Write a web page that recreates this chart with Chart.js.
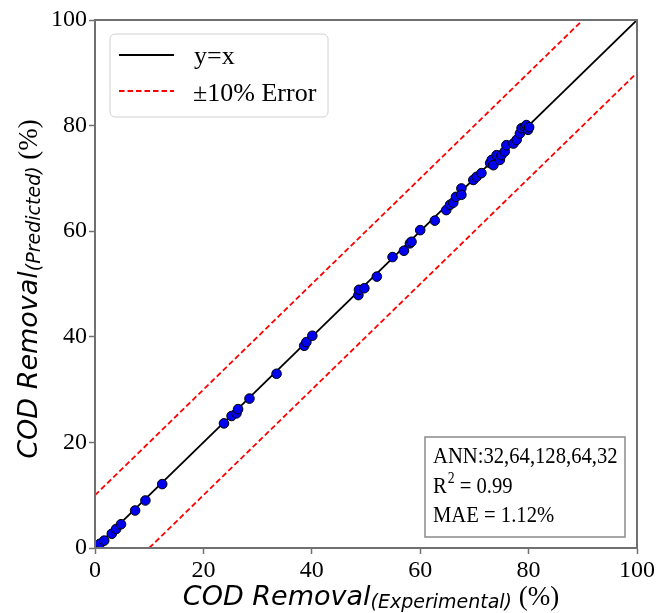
<!DOCTYPE html>
<html>
<head>
<meta charset="utf-8">
<script src="https://cdn.jsdelivr.net/npm/chart.js@4"></script>
<style>
  html, body { margin: 0; padding: 0; background: #fff; }
  #wrap { width: 657px; height: 613px; }
</style>
</head>
<body>
<div id="wrap"><canvas id="chart" width="657" height="613"></canvas></div>
<script>
// experimental vs predicted COD removal (%)
const expX = [0.3, 0.9, 1.7, 3.1, 3.9, 4.8, 7.4, 9.3, 12.4,
  23.8, 25.2, 26.1, 26.4, 28.5, 33.5, 38.6, 39.0, 40.1,
  48.6, 48.7, 49.7, 52.0, 54.9, 57.0, 58.1, 58.4, 60.0, 62.7, 64.8, 65.5, 66.1, 66.6,
  67.6, 67.6, 69.8, 70.4, 71.3, 72.9, 73.2, 73.5, 74.1, 74.7, 75.0, 75.6, 75.9,
  77.2, 77.8, 78.4, 78.7, 79.3, 79.9, 79.6, 80.1];
const predY = [0.3, 0.8, 1.4, 2.7, 3.6, 4.5, 7.1, 9.0, 12.1,
  23.6, 25.0, 25.5, 26.3, 28.3, 33.0, 38.3, 39.0, 40.2,
  47.9, 48.9, 49.2, 51.4, 55.1, 56.3, 57.7, 58.0, 60.2, 62.0, 64.0, 65.0, 65.4, 66.5,
  68.1, 66.9, 69.7, 70.3, 71.0, 72.9, 73.5, 72.5, 74.4, 73.5, 74.4, 75.1, 76.3,
  76.6, 77.3, 78.5, 79.5, 79.8, 79.2, 80.1, 79.7];
const tickVals = [0, 20, 40, 60, 80, 100];
const idealLine = [[0, 0], [100, 100]];
const upperLine = [[0, 10], [90, 100]];
const lowerLine = [[10, 0], [100, 90]];
const statsText = ['ANN:32,64,128,64,32', 'R', ' = 0.99', 'MAE = 1.12%'];

const AXIS_GREY = '#707070';
const SERIF = '"Liberation Serif", "Times New Roman", serif';
const SANS = '"DejaVu Sans", sans-serif';

const toXY = arr => arr.map(p => ({ x: p[0], y: p[1] }));
const scatterPts = expX.map((x, i) => ({ x: x, y: predY[i] }));

function axisCfg() {
  return {
    type: 'linear',
    min: 0,
    max: 100,
    afterBuildTicks: s => { s.ticks = tickVals.map(v => ({ value: v })); },
    ticks: {
      font: { family: SERIF, size: 24 },
      color: '#000',
      padding: 2
    },
    grid: {
      drawOnChartArea: false,
      drawTicks: true,
      tickLength: 6,
      tickColor: AXIS_GREY,
      tickWidth: 1.5
    },
    border: { display: true, color: AXIS_GREY, width: 2 }
  };
}

const xCfg = axisCfg();
xCfg.afterFit = s => { s.height = 65; };
const yCfg = axisCfg();
yCfg.afterFit = s => { s.width = 95; };

const overlay = {
  id: 'overlay',
  afterDraw(chart) {
    const ctx = chart.ctx;
    const a = chart.chartArea;
    ctx.save();
    // frame
    ctx.strokeStyle = AXIS_GREY;
    ctx.lineWidth = 2;
    ctx.strokeRect(a.left, a.top, a.right - a.left, a.bottom - a.top);

    // legend
    const lx = 110, ly = 34, lw = 218, lh = 83, r = 5;
    ctx.beginPath();
    ctx.moveTo(lx + r, ly);
    ctx.arcTo(lx + lw, ly, lx + lw, ly + lh, r);
    ctx.arcTo(lx + lw, ly + lh, lx, ly + lh, r);
    ctx.arcTo(lx, ly + lh, lx, ly, r);
    ctx.arcTo(lx, ly, lx + lw, ly, r);
    ctx.closePath();
    ctx.fillStyle = 'rgba(255,255,255,0.85)';
    ctx.fill();
    ctx.strokeStyle = '#d0d0d0';
    ctx.lineWidth = 1;
    ctx.stroke();

    ctx.lineWidth = 1.8;
    ctx.strokeStyle = '#000';
    ctx.beginPath(); ctx.moveTo(119, 55); ctx.lineTo(174, 55); ctx.stroke();
    ctx.strokeStyle = '#ff0000';
    ctx.setLineDash([5.5, 3]);
    ctx.beginPath(); ctx.moveTo(119, 91); ctx.lineTo(174, 91); ctx.stroke();
    ctx.setLineDash([]);

    ctx.fillStyle = '#000';
    ctx.font = '26px ' + SERIF;
    ctx.textBaseline = 'alphabetic';
    ctx.textAlign = 'left';
    ctx.fillText('y=x', 194, 64);
    ctx.fillText('\u00b110% Error', 193, 101);

    // stats box
    ctx.fillStyle = '#fff';
    ctx.fillRect(425, 437, 200, 100);
    ctx.strokeStyle = '#8a8a8a';
    ctx.lineWidth = 1.5;
    ctx.strokeRect(425, 437, 200, 100);
    ctx.save();
    ctx.translate(433, 0);
    ctx.scale(0.86, 1);
    ctx.fillStyle = '#000';
    ctx.font = '24px ' + SERIF;
    ctx.fillText(statsText[0], 0, 463);
    ctx.fillText(statsText[1], 0, 493);
    const w = ctx.measureText(statsText[1]).width;
    ctx.font = '16px ' + SERIF;
    ctx.fillText('2', w + 1, 483);
    const w2 = ctx.measureText('2').width;
    ctx.font = '24px ' + SERIF;
    ctx.fillText(statsText[2], w + w2 + 1, 493);
    ctx.fillText(statsText[3], 0, 522);
    ctx.restore();

    // axis titles
    drawTitle(ctx, 'Experimental', 371, 605);
    ctx.save();
    ctx.translate(37, 289);
    ctx.rotate(-Math.PI / 2);
    drawTitle(ctx, 'Predicted', 0, 0);
    ctx.restore();
    ctx.restore();
  }
};

function drawTitle(ctx, sub, cx, baseY) {
  const parts = [
    { t: 'COD Removal', f: 'italic 27px ' + SANS, dy: 0 },
    { t: '(' + sub + ')', f: 'italic 19px ' + SANS, dy: 3 },
    { t: ' (%)', f: '27px ' + SERIF, dy: 0 }
  ];
  let total = 0;
  parts.forEach(p => { ctx.font = p.f; p.w = ctx.measureText(p.t).width; total += p.w; });
  let x = cx - total / 2;
  ctx.fillStyle = '#000';
  ctx.textAlign = 'left';
  ctx.textBaseline = 'alphabetic';
  parts.forEach(p => {
    ctx.font = p.f;
    ctx.fillText(p.t, x, baseY + p.dy);
    x += p.w;
  });
}

new Chart(document.getElementById('chart'), {
  type: 'scatter',
  data: {
    datasets: [
      {
        label: 'y=x',
        data: toXY(idealLine),
        showLine: true,
        borderColor: '#000',
        borderWidth: 1.8,
        pointRadius: 0,
        order: 2
      },
      {
        label: '\u00b110% Error',
        data: toXY(upperLine),
        showLine: true,
        borderColor: '#ff0000',
        borderWidth: 1.8,
        borderDash: [5.5, 3],
        pointRadius: 0,
        order: 3
      },
      {
        label: 'lower',
        data: toXY(lowerLine),
        showLine: true,
        borderColor: '#ff0000',
        borderWidth: 1.8,
        borderDash: [5.5, 3],
        pointRadius: 0,
        order: 3
      },
      {
        label: 'data',
        data: scatterPts,
        pointRadius: 4.8,
        pointBackgroundColor: '#0000ee',
        pointBorderColor: '#000',
        pointBorderWidth: 1,
        order: 1
      }
    ]
  },
  options: {
    responsive: false,
    animation: false,
    layout: { padding: { left: 0, top: 20, right: 20, bottom: 0 } },
    plugins: {
      legend: { display: false },
      tooltip: { enabled: false }
    },
    scales: { x: xCfg, y: yCfg }
  },
  plugins: [overlay]
});
</script>
</body>
</html>
